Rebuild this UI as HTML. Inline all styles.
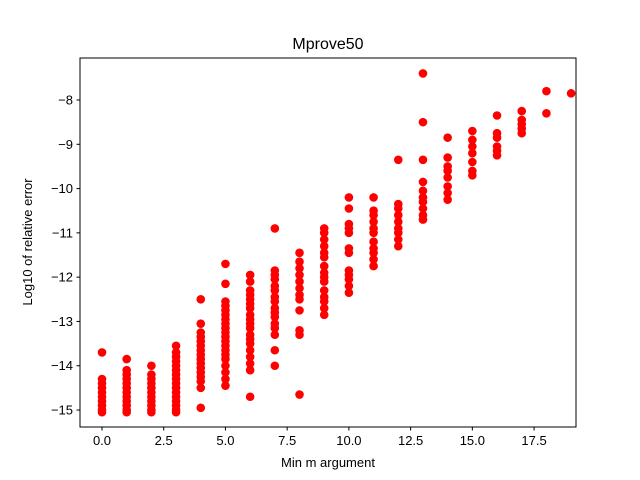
<!DOCTYPE html>
<html><head><meta charset="utf-8"><style>
body{margin:0;background:#fff}
svg{display:block;font-family:"Liberation Sans","DejaVu Sans",sans-serif}
</style></head><body>
<svg id="chart" width="640" height="480">
<rect x="0" y="0" width="640" height="480" fill="#fff"/>
<g id="ticks"></g>
<g id="pts"></g>
<rect x="80" y="58" width="496" height="369" fill="none" stroke="#000" stroke-width="1"/>
<text x="328" y="49" font-size="16" text-anchor="middle">Mprove50</text>
<text x="328" y="467" font-size="13" text-anchor="middle">Min m argument</text>
<text x="32" y="242" font-size="13" text-anchor="middle" transform="rotate(-90 32 242)">Log10 of relative error</text>
</svg>
<script>
const xTicks=[0,2.5,5,7.5,10,12.5,15,17.5];
const xTickLabels=["0.0","2.5","5.0","7.5","10.0","12.5","15.0","17.5"];
const yTicks=[-15,-14,-13,-12,-11,-10,-9,-8];
const yTickLabels=["\u221215","\u221214","\u221213","\u221212","\u221211","\u221210","\u22129","\u22128"];
const col0=[-13.7,-14.3,-14.4,-14.5,-14.6,-14.7,-14.8,-14.9,-15.0,-15.05];
const col1=[-13.85,-14.1,-14.2,-14.3,-14.4,-14.5,-14.6,-14.7,-14.8,-14.9,-15.0,-15.05];
const col2=[-14.0,-14.2,-14.3,-14.4,-14.5,-14.6,-14.7,-14.8,-14.9,-15.0,-15.05];
const col3=[-13.55,-13.7,-13.8,-13.9,-14.0,-14.1,-14.2,-14.3,-14.4,-14.5,-14.6,-14.7,-14.8,-14.9,-15.0,-15.05];
const col4=[-12.5,-13.05,-13.25,-13.35,-13.45,-13.55,-13.65,-13.75,-13.85,-13.95,-14.05,-14.15,-14.25,-14.35,-14.5,-14.95];
const col5=[-11.7,-12.15,-12.55,-12.65,-12.75,-12.85,-12.95,-13.05,-13.15,-13.25,-13.35,-13.45,-13.55,-13.65,-13.75,-13.85,-14.0,-14.15,-14.3,-14.45];
const col6=[-11.95,-12.1,-12.3,-12.4,-12.5,-12.6,-12.7,-12.85,-12.95,-13.05,-13.15,-13.3,-13.4,-13.5,-13.65,-13.8,-13.95,-14.1,-14.7];
const col7=[-10.9,-11.85,-11.95,-12.05,-12.2,-12.3,-12.45,-12.55,-12.7,-12.8,-12.9,-13.05,-13.15,-13.3,-13.65,-14.0];
const col8=[-11.45,-11.65,-11.8,-11.95,-12.1,-12.25,-12.4,-12.5,-12.75,-13.2,-13.3,-14.65];
const col9=[-10.9,-11.0,-11.15,-11.3,-11.45,-11.55,-11.75,-11.9,-12.0,-12.1,-12.3,-12.45,-12.55,-12.7,-12.85];
const col10=[-10.2,-10.45,-10.8,-10.9,-11.0,-11.35,-11.45,-11.85,-11.95,-12.05,-12.2,-12.35];
const col11=[-10.2,-10.5,-10.6,-10.75,-10.9,-11.0,-11.2,-11.35,-11.45,-11.6,-11.75];
const col12=[-9.35,-10.35,-10.45,-10.6,-10.75,-10.9,-11.0,-11.15,-11.3];
const col13=[-7.4,-8.5,-9.35,-9.85,-10.05,-10.2,-10.3,-10.45,-10.6,-10.7];
const col14=[-8.85,-9.3,-9.5,-9.6,-9.75,-9.95,-10.1,-10.25];
const col15=[-8.7,-8.9,-9.05,-9.2,-9.4,-9.6,-9.7];
const col16=[-8.35,-8.75,-8.85,-9.05,-9.15,-9.25];
const col17=[-8.25,-8.45,-8.55,-8.65,-8.75];
const col18=[-7.8,-8.3];
const col19=[-7.85];
const columns=[col0,col1,col2,col3,col4,col5,col6,col7,col8,col9,col10,col11,col12,col13,col14,col15,col16,col17,col18,col19];
const xCats=[0,1,2,3,4,5,6,7,8,9,10,11,12,13,14,15,16,17,18,19];

function sx(v){return 102+v*24.69;}
function sy(v){return 100+(-8-v)*44.29;}
const NS="http://www.w3.org/2000/svg";
const tg=document.getElementById('ticks');
xTicks.forEach((t,i)=>{
  const l=document.createElementNS(NS,'line');
  l.setAttribute('x1',sx(t));l.setAttribute('x2',sx(t));l.setAttribute('y1',427);l.setAttribute('y2',430.5);l.setAttribute('stroke','#000');
  
  
  tg.appendChild(l);
  const tx=document.createElementNS(NS,'text');
  tx.setAttribute('x',sx(t));tx.setAttribute('y',445);tx.setAttribute('font-size','13');tx.setAttribute('text-anchor','middle');
  tx.textContent=xTickLabels[i];
  
  
  tg.appendChild(tx);
});
yTicks.forEach((t,i)=>{
  const l=document.createElementNS(NS,'line');
  l.setAttribute('x1',76.5);l.setAttribute('x2',80);l.setAttribute('y1',sy(t));l.setAttribute('y2',sy(t));l.setAttribute('stroke','#000');
  
  
  tg.appendChild(l);
  const tx=document.createElementNS(NS,'text');
  tx.setAttribute('x',73);tx.setAttribute('y',sy(t)+4.5);tx.setAttribute('font-size','13');tx.setAttribute('text-anchor','end');
  tx.textContent=yTickLabels[i];
  
  
  tg.appendChild(tx);
});
const pg=document.getElementById('pts');
columns.forEach((col,ci)=>{
  col.forEach(v=>{
    const c=document.createElementNS(NS,'circle');
    c.setAttribute('cx',sx(xCats[ci]));c.setAttribute('cy',sy(v));c.setAttribute('r',4.3);c.setAttribute('fill','#ff0000');
    
    
    pg.appendChild(c);
  });
});
</script>
</body></html>
